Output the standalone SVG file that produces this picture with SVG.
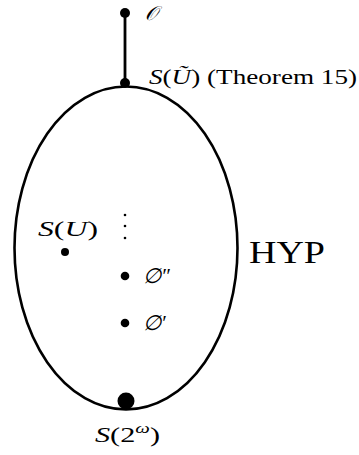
<svg xmlns="http://www.w3.org/2000/svg" width="359" height="455" viewBox="0 0 359 455">
<style>
text{font-family:"Liberation Serif","DejaVu Serif",serif;fill:#000}
.m{font-style:italic}
.dot{fill:#000}
</style>
<rect width="359" height="455" fill="#fff"/>
<g id="hyp">
<ellipse cx="126" cy="248" rx="111.5" ry="161.5" fill="none" stroke="#000" stroke-width="2.6"/>
<text x="249" y="263" font-size="31" textLength="76" lengthAdjust="spacingAndGlyphs">HYP</text>
</g>
<g id="connectors">
<line x1="125" y1="13" x2="125" y2="83" stroke="#000" stroke-width="2.8"/>
</g>
<g id="O">
<circle class="dot" cx="125" cy="13" r="5"/>
<text class="m" x="145" y="20" font-size="20">𝒪</text>
</g>
<g id="SUtilde">
<circle class="dot" cx="125" cy="83" r="5"/>
<text x="149" y="84" font-size="21" textLength="208" lengthAdjust="spacingAndGlyphs"><tspan class="m">S</tspan>(<tspan class="m">Ũ</tspan>) (Theorem 15)</text>
</g>
<g id="SU">
<circle class="dot" cx="65" cy="252" r="4"/>
<text x="38" y="236" font-size="21" textLength="60" lengthAdjust="spacingAndGlyphs"><tspan class="m">S</tspan>(<tspan class="m">U</tspan>)</text>
</g>
<g id="vdots">
<circle class="dot" cx="125" cy="215" r="1.3"/>
<circle class="dot" cx="125" cy="226" r="1.3"/>
<circle class="dot" cx="125" cy="238" r="1.3"/>
</g>
<g id="empty2">
<circle class="dot" cx="125" cy="276" r="4.3"/>
<text class="m" x="143" y="283" font-size="21">∅″</text>
</g>
<g id="empty1">
<circle class="dot" cx="125" cy="323" r="4.3"/>
<text class="m" x="143" y="330" font-size="21">∅′</text>
</g>
<g id="S2w">
<circle class="dot" cx="126" cy="401" r="8.5"/>
<text x="95" y="442" font-size="22" textLength="65" lengthAdjust="spacingAndGlyphs"><tspan class="m">S</tspan>(2<tspan class="m" font-size="15" dy="-9">ω</tspan><tspan dy="9">)</tspan></text>
</g>
</svg>
